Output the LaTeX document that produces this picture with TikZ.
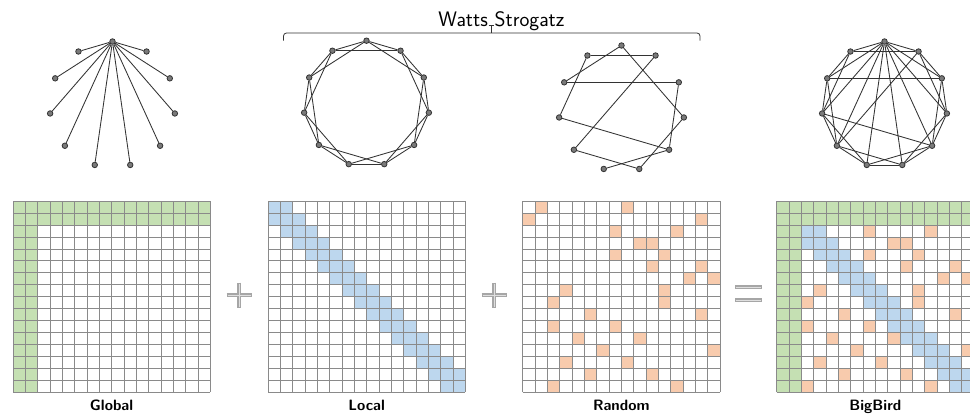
\documentclass[tikz,border=0pt]{standalone}
\usetikzlibrary{calc}
\definecolor{cgreen}{HTML}{C5E0B3}
\definecolor{cblue}{HTML}{BDD7EE}
\definecolor{corange}{HTML}{F8CBAD}
\definecolor{cgrid}{HTML}{8A8A8A}
\definecolor{cedge}{HTML}{333333}
\definecolor{cnode}{HTML}{7A7A7A}
\def\cw{12.33}
\def\ch{11.95}
\def\gy{201}
\newcommand\mcell[4]{\fill[#4] ({#1+#3*\cw},{\gy+#2*\ch}) rectangle ({#1+(#3+1)*\cw},{\gy+(#2+1)*\ch});}
\newcommand\mgrid[1]{\foreach \k in {0,...,16}{\draw[gridline] ({#1+\k*\cw},\gy) -- ({#1+\k*\cw},{\gy+16*\ch}); \draw[gridline] (#1,{\gy+\k*\ch}) -- ({#1+16*\cw},{\gy+\k*\ch});}}
\newcommand\mband[1]{\foreach \r in {0,...,15}{\foreach \d in {-1,0,1}{\pgfmathtruncatemacro\cc{\r+\d}\ifnum\cc<0\else\ifnum\cc>15\else\mcell{#1}{\r}{\cc}{cblue}\fi\fi}}}
\newcommand\mrand[1]{\foreach \r/\c in {0/1,0/8,1/0,1/14,2/7,2/12,3/9,3/10,4/7,4/11,5/10,5/14,6/13,6/15,7/3,7/11,8/2,8/11,9/5,9/14,10/2,10/7,11/4,11/9,12/6,12/15,13/3,13/8,14/5,14/10,15/2,15/12}{\mcell{#1}{\r}{\c}{corange}}}
\newcommand\mglob[1]{\fill[cgreen] (#1,\gy) rectangle ({#1+16*\cw},{\gy+2*\ch}); \fill[cgreen] (#1,\gy) rectangle ({#1+2*\cw},{\gy+16*\ch});}
\newcommand\mkgraph[4]{\foreach \i in {0,...,10}{\node[vtx] (#1\i) at ($(#2,#3)+({-90-\i*360/11}:#4)$) {};}}
\begin{document}
\begin{tikzpicture}[x=1pt,y=-1pt,
  vtx/.style={circle,draw=cedge,fill=cnode,line width=0.8pt,inner sep=0pt,minimum size=5.5pt},
  edge/.style={cedge,line width=0.85pt},
  gridline/.style={cgrid,line width=0.6pt},
  lbl/.style={font=\sffamily\bfseries\fontsize{15}{17}\selectfont,anchor=base},
  ttl/.style={font=\sffamily\fontsize{21}{24}\selectfont},
  op/.style={line width=3.4pt,color=gray!70,line cap=butt},
  opin/.style={line width=1pt,color=gray!25,line cap=butt}]
\useasboundingbox (0,0) rectangle (970,415);
\fill[white] (0,0) rectangle (970,415);
\clip (0,0) rectangle (970,415);

% matrices
\mglob{13}\mgrid{13}
\mband{268}\mgrid{268}
\mrand{522.7}\mgrid{522.7}
\mrand{776.7}\mband{776.7}\mglob{776.7}\mgrid{776.7}

% operators
\draw[op] (226.5,295) -- (251.5,295); \draw[op] (239,282.5) -- (239,307.5);
\draw[opin] (227.5,295) -- (250.5,295); \draw[opin] (239,283.5) -- (239,306.5);
\draw[op] (481.5,295) -- (506.5,295); \draw[op] (494,282.5) -- (494,307.5);
\draw[opin] (482.5,295) -- (505.5,295); \draw[opin] (494,283.5) -- (494,306.5);
\draw[op] (735,287) -- (761.5,287); \draw[op] (735,300) -- (761.5,300);
\draw[opin] (736,287) -- (760.5,287); \draw[opin] (736,300) -- (760.5,300);

% labels
\node[lbl] (lglobal) at (111.6,410.5) {Global};
\node[lbl] (llocal) at (366.6,410.5) {Local};
\node[lbl] (lrandom) at (621.3,410.5) {Random};
\node[lbl] (lbigbird) at (875.3,410.5) {BigBird};

% title and brace
\node[ttl,anchor=base east,inner xsep=0pt] (wsa) at (488,26) {Watts};
\node[ttl,anchor=base west,inner xsep=0pt] (wsb) at (494.5,26) {Strogatz};
\draw[cedge,line width=0.8pt,rounded corners=3pt] (283.5,40.5) -- (283.5,33) -- (700,33) -- (700,40.5);
\draw[cedge,line width=0.8pt] (491,33) -- (491,25.5);
\draw[cedge,line width=0.8pt] (488.5,25.5) -- (493.5,25.5);

% graph 1: star
\mkgraph{ga}{112.5}{104.5}{63}
\foreach \i in {1,...,10}{\draw[edge] (ga0) -- (ga\i);}

% graph 2: ring lattice
\mkgraph{gb}{366.5}{103.7}{63}
\foreach \i in {0,...,10}{\pgfmathtruncatemacro\j{mod(\i+1,11)}\pgfmathtruncatemacro\k{mod(\i+2,11)}\draw[edge] (gb\i) -- (gb\j); \draw[edge] (gb\i) -- (gb\k);}

% graph 3: rewired
\mkgraph{gc}{621.5}{108.5}{63}
\foreach \a/\b in {1/10,0/2,1/3,0/8,2/9,10/4,9/7,3/7,4/6,8/6,5/7}{\draw[edge] (gc\a) -- (gc\b);}

% graph 4: bigbird
\mkgraph{gd}{884.5}{104.5}{63}
\foreach \i in {0,...,10}{\pgfmathtruncatemacro\j{mod(\i+1,11)}\pgfmathtruncatemacro\k{mod(\i+2,11)}\draw[edge] (gd\i) -- (gd\j); \draw[edge] (gd\i) -- (gd\k);}
\foreach \i in {3,...,8}{\draw[edge] (gd0) -- (gd\i);}
\foreach \a/\b in {2/9,10/4,3/7}{\draw[edge] (gd\a) -- (gd\b);}
\end{tikzpicture}
\end{document}
